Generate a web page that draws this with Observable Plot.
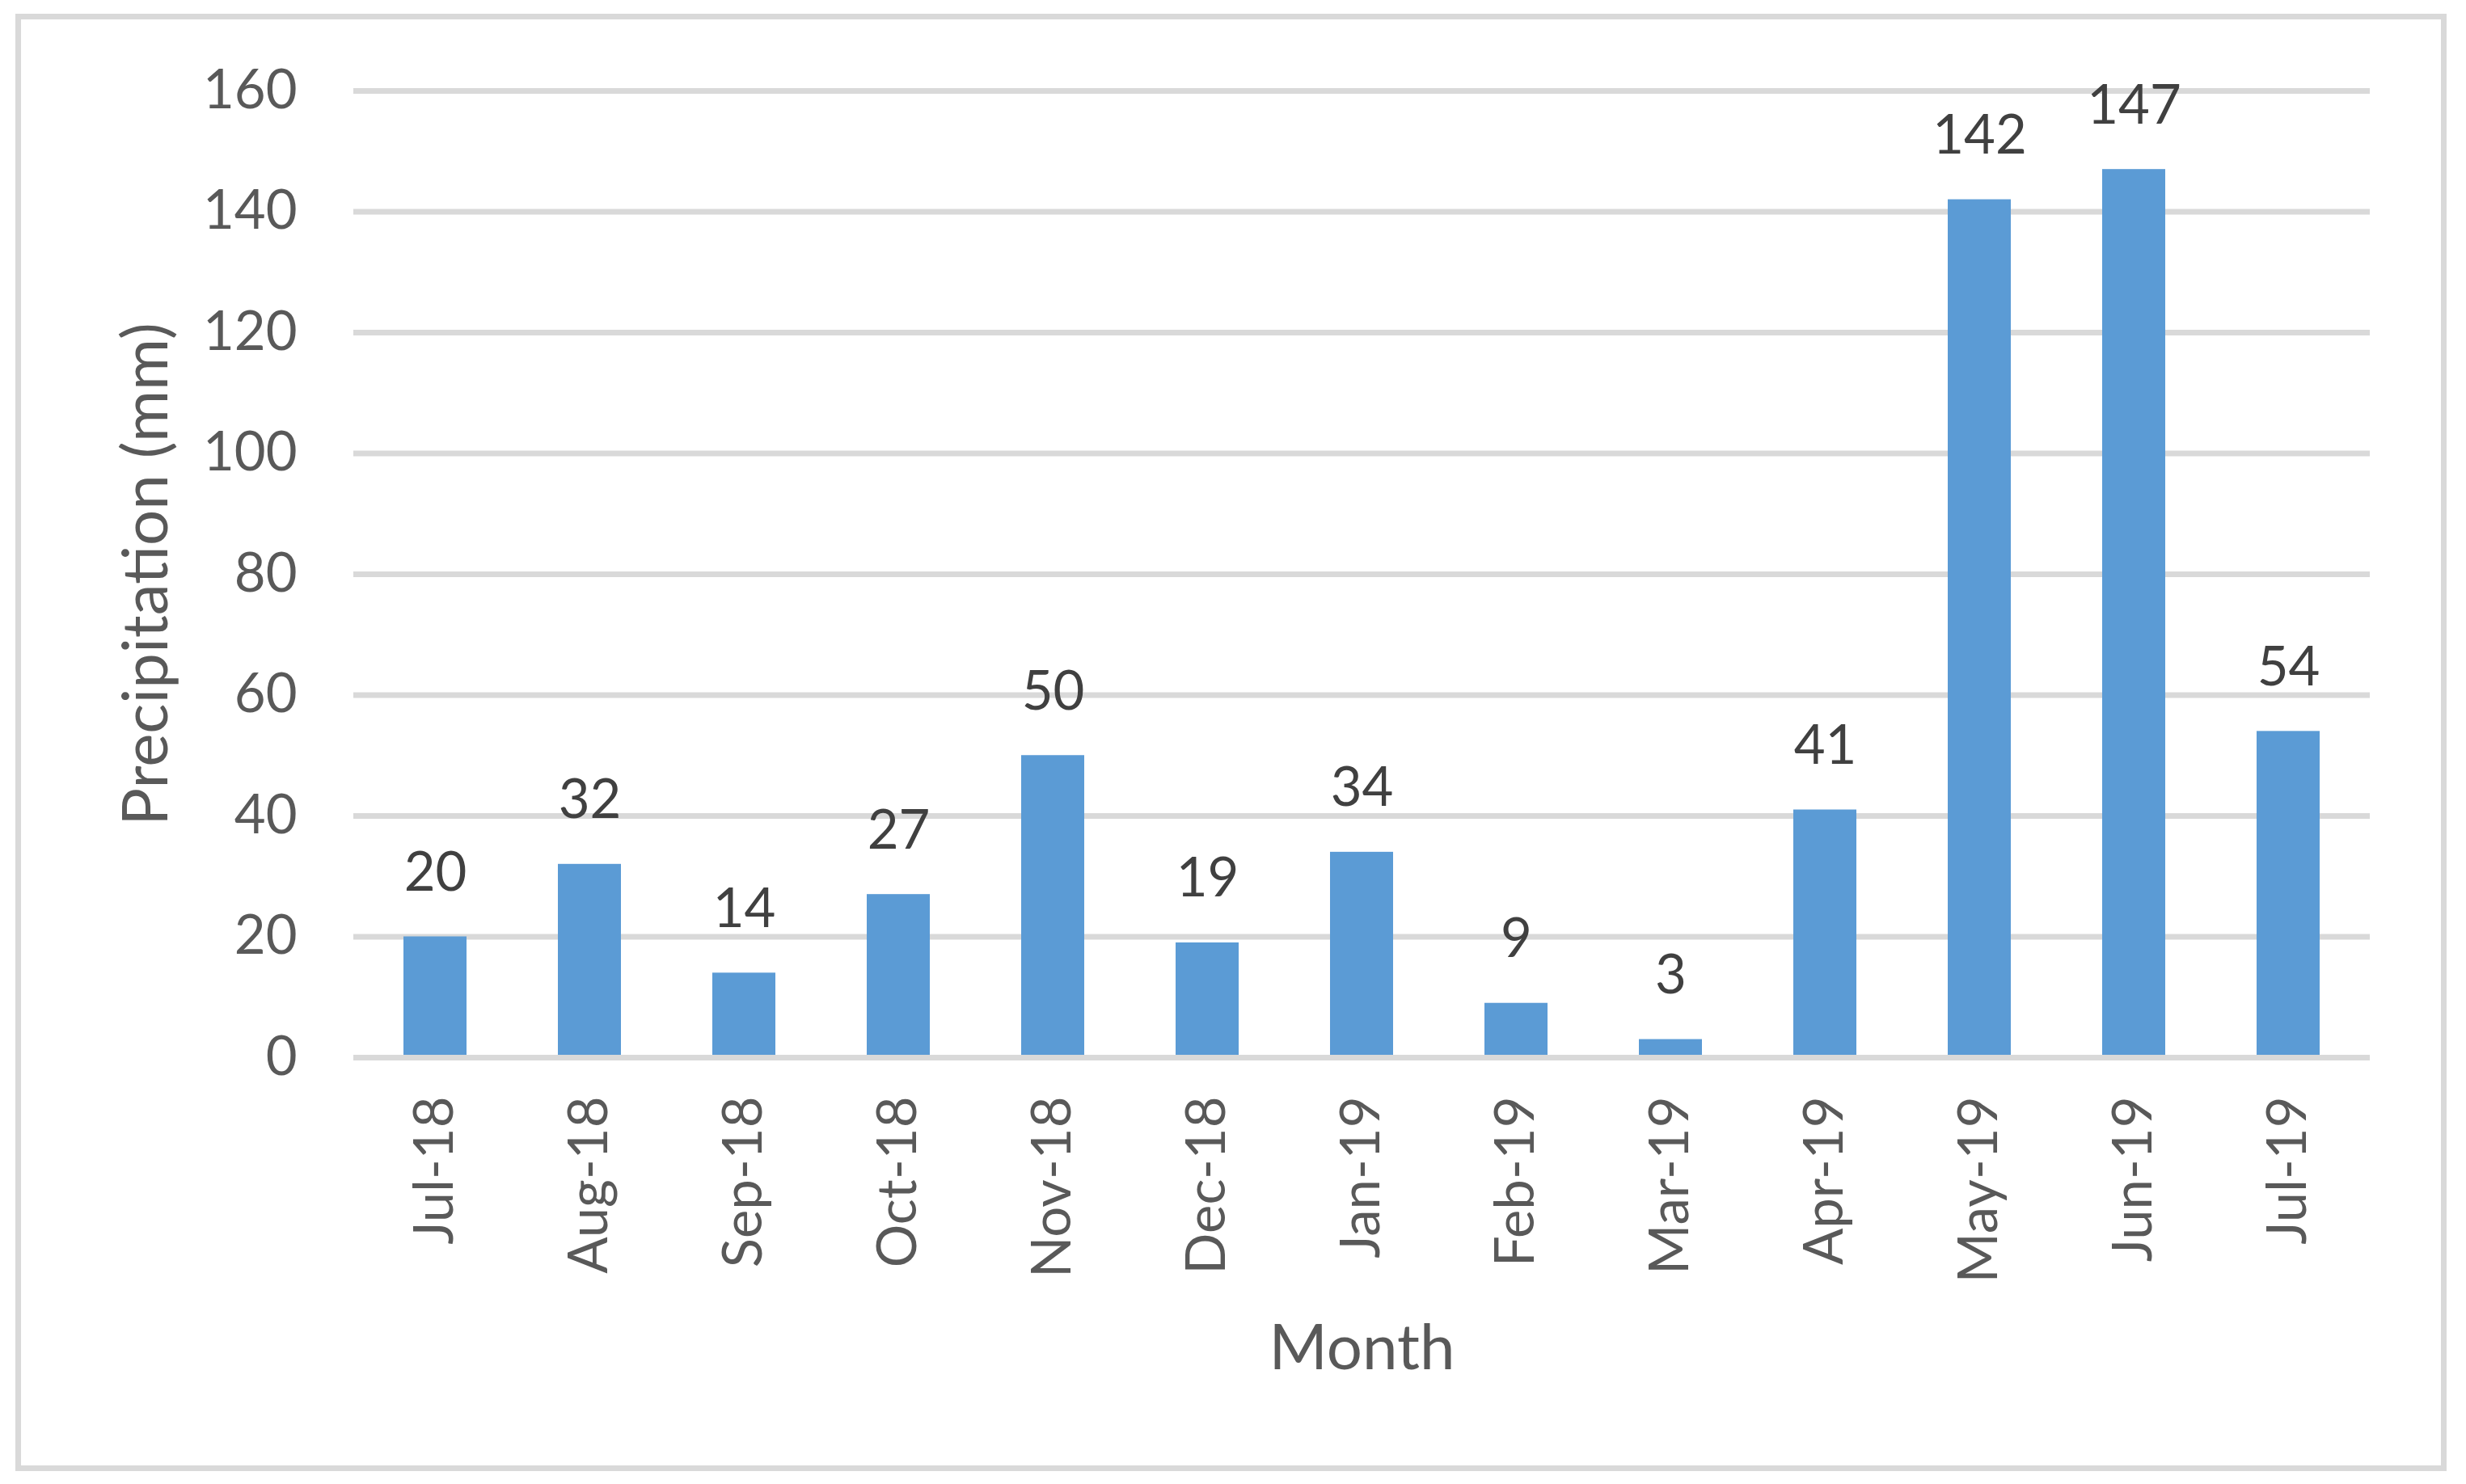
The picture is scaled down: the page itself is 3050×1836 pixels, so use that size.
<!DOCTYPE html>
<html>
<head>
<meta charset="utf-8">
<script src="https://cdn.jsdelivr.net/npm/d3@7"></script>
<script src="https://cdn.jsdelivr.net/npm/@observablehq/plot@0.6"></script>
<style>
  html, body { margin: 0; padding: 0; background: #ffffff; }
  #wrap { position: relative; width: 3050px; height: 1836px; overflow: hidden; }
  #wrap svg { position: absolute; left: 0; top: 0; }
  #border { position: absolute; left: 19px; top: 17px; width: 3007px; height: 1803px;
            box-sizing: border-box; border: 7px solid #d9d9d9; pointer-events: none; }
</style>
</head>
<body>
<div id="wrap"><div id="border"></div></div>
<script>
const months = ["Jul-18", "Aug-18", "Sep-18", "Oct-18", "Nov-18", "Dec-18", "Jan-19",
                "Feb-19", "Mar-19", "Apr-19", "May-19", "Jun-19", "Jul-19"];
const precipitation = [20, 32, 14, 27, 50, 19, 34, 9, 3, 41, 142, 147, 54];
const yTicks = [0, 20, 40, 60, 80, 100, 120, 140, 160];
const xTitle = "Month";
const yTitle = "Precipitation (mm)";

const data = months.map((m, i) => ({month: m, value: precipitation[i]}));

const chart = Plot.plot({
  width: 3050,
  height: 1836,
  marginLeft: 437,
  marginRight: 119,
  marginTop: 112,
  marginBottom: 528,
  style: {fontFamily: "Lato, 'Noto Sans', sans-serif", fontSize: "67px", color: "#595959", background: "transparent", overflow: "visible"},
  x: {domain: months, type: "band", paddingInner: 0.593, paddingOuter: 0.2965, label: null},
  y: {domain: [0, 160], label: null},
  marks: [
    Plot.ruleY(yTicks.filter(t => t !== 0), {stroke: "#d9d9d9", strokeWidth: 7}),
    Plot.barY(data, {x: "month", y: "value", fill: "#5b9bd5"}),
    Plot.ruleY([0], {stroke: "#d9d9d9", strokeWidth: 7}),
    Plot.text(data, {x: "month", y: "value", text: d => String(d.value), lineAnchor: "bottom", dy: -57, fill: "#404040", fontSize: 67}),
    Plot.axisY({ticks: yTicks, tickSize: 0, tickPadding: 70, label: null, fontSize: 67}),
    Plot.axisX({tickSize: 0, tickPadding: 48, tickRotate: -90, label: null, fontSize: 67}),
    Plot.text([xTitle], {frameAnchor: "bottom", text: d => d, textAnchor: "middle", lineAnchor: "bottom", dy: 385, fill: "#595959", fontSize: 78}),
    Plot.text([yTitle], {frameAnchor: "left", text: d => d, textAnchor: "middle", rotate: -90, lineAnchor: "bottom", dx: -231, fill: "#595959", fontSize: 78})
  ]
});
document.getElementById("wrap").insertBefore(chart, document.getElementById("border"));
</script>
</body>
</html>
